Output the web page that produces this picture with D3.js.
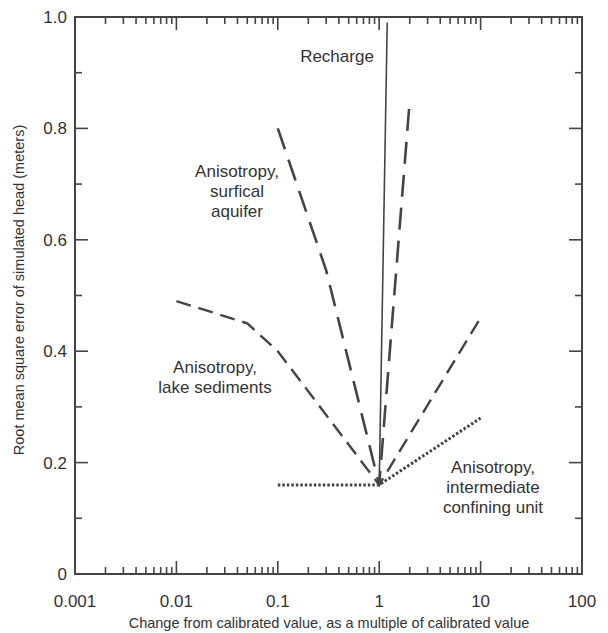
<!DOCTYPE html>
<html>
<head>
<meta charset="utf-8">
<script src="https://cdn.jsdelivr.net/npm/d3@7"></script>
<style>
  body { margin: 0; background: #fff; }
  text { font-family: "Liberation Sans", Arial, sans-serif; fill: #333; }
</style>
</head>
<body>
<div id="chart"></div>
<script>
// values (multiplier, rmse in meters)
const recharge = [[1, 0.16], [1.2, 0.99]];
const surficial = [[0.1, 0.80], [0.3, 0.545], [1, 0.16], [2, 0.85]];
const lakeSediments = [[0.01, 0.49], [0.05, 0.45], [0.1, 0.40], [1, 0.16], [10, 0.46]];
const confining = [[0.1, 0.16], [1, 0.16], [10, 0.28]];

const xTickValues = [0.001, 0.01, 0.1, 1, 10, 100];
const xTickLabels = ["0.001", "0.01", "0.1", "1", "10", "100"];
const yTickValues = [0, 0.2, 0.4, 0.6, 0.8, 1.0];
const yTickLabels = ["0", "0.2", "0.4", "0.6", "0.8", "1.0"];

const width = 608, height = 633;
const plotL = 75, plotR = 582, plotT = 17, plotB = 574;
const ink = "#444";

const svg = d3.select("#chart").append("svg")
  .attr("width", width)
  .attr("height", height);

const x = d3.scaleLog().domain([0.001, 100]).range([plotL, plotR]);
const y = d3.scaleLinear().domain([0, 1]).range([plotB, plotT]);

// minor ticks on log axis
const minorX = [];
xTickValues.slice(0, -1).forEach(d => {
  for (let k = 2; k <= 9; k++) minorX.push(d * k);
});
const minorY = [0.1, 0.3, 0.5, 0.7, 0.9];

const g = svg.append("g");

// ticks pointing inward on all four sides
function tickLine(x1, y1, x2, y2) {
  g.append("line")
    .attr("x1", x1).attr("y1", y1).attr("x2", x2).attr("y2", y2)
    .attr("stroke", ink).attr("stroke-width", 1.6);
}
xTickValues.forEach(v => {
  tickLine(x(v), plotB, x(v), plotB - 13);
  tickLine(x(v), plotT, x(v), plotT + 13);
});
minorX.forEach(v => {
  tickLine(x(v), plotB, x(v), plotB - 7);
  tickLine(x(v), plotT, x(v), plotT + 7);
});
yTickValues.forEach(v => {
  tickLine(plotL, y(v), plotL + 13, y(v));
  tickLine(plotR, y(v), plotR - 13, y(v));
});
minorY.forEach(v => {
  tickLine(plotL, y(v), plotL + 7, y(v));
  tickLine(plotR, y(v), plotR - 7, y(v));
});

// frame
g.append("rect")
  .attr("x", plotL).attr("y", plotT)
  .attr("width", plotR - plotL).attr("height", plotB - plotT)
  .attr("fill", "none").attr("stroke", ink).attr("stroke-width", 2);

// tick labels
svg.append("g").selectAll("text")
  .data(xTickValues)
  .enter().append("text")
  .attr("x", d => x(d))
  .attr("y", 607)
  .attr("text-anchor", "middle")
  .attr("font-size", 17)
  .text((d, i) => xTickLabels[i]);

svg.append("g").selectAll("text")
  .data(yTickValues)
  .enter().append("text")
  .attr("x", 67)
  .attr("y", d => y(d) + 6)
  .attr("text-anchor", "end")
  .attr("font-size", 17)
  .text((d, i) => yTickLabels[i]);

// axis titles
svg.append("text")
  .attr("x", 329)
  .attr("y", 628)
  .attr("text-anchor", "middle")
  .attr("font-size", 14.5)
  .text("Change from calibrated value, as a multiple of calibrated value");

svg.append("text")
  .attr("transform", "translate(24, 290) rotate(-90)")
  .attr("text-anchor", "middle")
  .attr("font-size", 14.5)
  .text("Root mean square error of simulated head (meters)");

// lines
const line = d3.line().x(d => x(d[0])).y(d => y(d[1]));
const series = [
  { data: recharge, dash: null, w: 1.6 },
  { data: surficial, dash: "22,11", w: 2.6 },
  { data: lakeSediments, dash: "15,8", w: 2.4 },
  { data: confining, dash: "2.5,2", w: 3 }
];
svg.append("g").selectAll("path")
  .data(series)
  .enter().append("path")
  .attr("d", d => line(d.data))
  .attr("fill", "none")
  .attr("stroke", ink)
  .attr("stroke-width", d => d.w)
  .attr("stroke-dasharray", d => d.dash);

// annotations
const notes = [
  { lines: ["Recharge"], cx: 337, y0: 62 },
  { lines: ["Anisotropy,", "surfical", "aquifer"], cx: 237, y0: 177 },
  { lines: ["Anisotropy,", "lake sediments"], cx: 215, y0: 373 },
  { lines: ["Anisotropy,", "intermediate", "confining unit"], cx: 493, y0: 473 }
];
notes.forEach(n => {
  n.lines.forEach((t, i) => {
    svg.append("text")
      .attr("x", n.cx)
      .attr("y", n.y0 + i * 20)
      .attr("text-anchor", "middle")
      .attr("font-size", 17)
      .text(t);
  });
});
</script>
</body>
</html>
